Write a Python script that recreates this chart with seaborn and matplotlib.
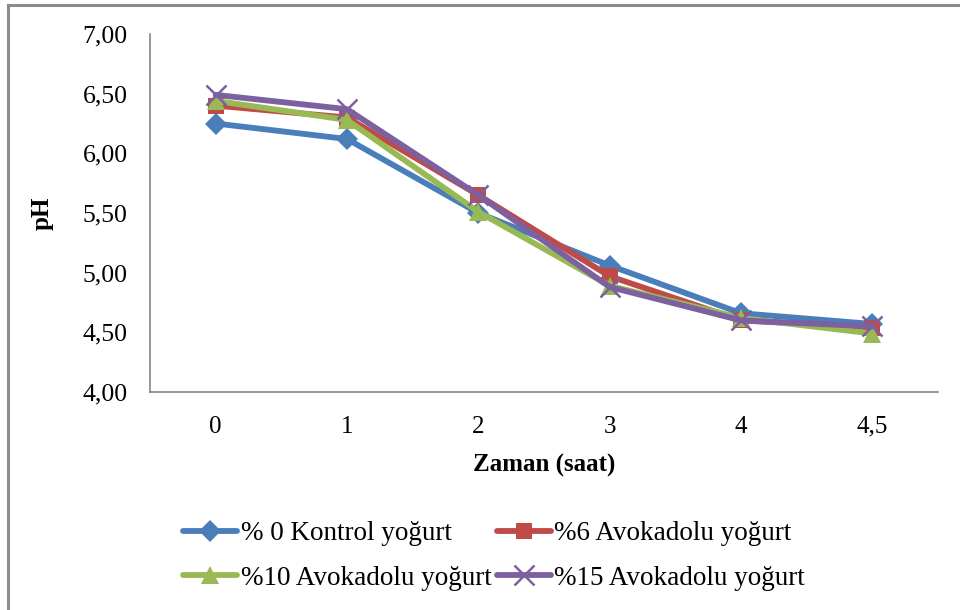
import matplotlib
matplotlib.use("Agg")
import matplotlib.pyplot as plt
import seaborn as sns
import pandas as pd
from matplotlib.ticker import FuncFormatter, FixedLocator
from matplotlib.patches import Rectangle

# Data
times = ["0", "1", "2", "3", "4", "4,5"]
series_names = ["% 0 Kontrol yoğurt", "%6 Avokadolu yoğurt",
                "%10 Avokadolu yoğurt", "%15 Avokadolu yoğurt"]
kontrol = [6.25, 6.12, 5.50, 5.06, 4.66, 4.57]
avo6 = [6.40, 6.30, 5.65, 4.97, 4.60, 4.54]
avo10 = [6.44, 6.28, 5.51, 4.89, 4.62, 4.49]
avo15 = [6.49, 6.37, 5.65, 4.88, 4.60, 4.55]

colors = ["#4A7EBB", "#BE4B48", "#98B954", "#7D60A0"]
markers = ["D", "s", "^", "x"]
msizes = [11, 11.5, 13.5, 14]

rows = []
for name, vals in zip(series_names, [kontrol, avo6, avo10, avo15]):
    for i, (t, v) in enumerate(zip(times, vals)):
        rows.append({"pos": i, "Zaman": t, "pH": v, "Seri": name})
df = pd.DataFrame(rows)

sns.set_style("white")
plt.rcParams["font.family"] = ["Liberation Serif", "DejaVu Serif"]
plt.rcParams["text.color"] = "black"
plt.rcParams["axes.labelcolor"] = "black"
plt.rcParams["xtick.color"] = "black"
plt.rcParams["ytick.color"] = "black"

fig = plt.figure(figsize=(9.6, 6.1), dpi=100)
ax = fig.add_axes([150/960, 1-392/610, (938-150)/960, (392-34)/610])

for name, c, m, ms in zip(series_names, colors, markers, msizes):
    sub = df[df["Seri"] == name]
    kw = dict(markeredgewidth=1.8) if m == "x" else dict(markeredgewidth=0)
    sns.lineplot(data=sub, x="pos", y="pH", color=c, marker=m,
                 markersize=ms, markerfacecolor=c, markeredgecolor=c,
                 linewidth=4.2, ax=ax, label=name, sort=False,
                 solid_capstyle="round", solid_joinstyle="round", **kw)

ax.set_xlim(-0.5, 5.5)
ax.set_ylim(4.0, 7.0)
ax.set_yticks([4.0, 4.5, 5.0, 5.5, 6.0, 6.5, 7.0])
ax.yaxis.set_major_formatter(FuncFormatter(lambda v, p: f"{v:.2f}".replace(".", ",")))

ax.xaxis.set_major_locator(FixedLocator([i - 0.5 for i in range(7)]))
ax.xaxis.set_major_formatter(FuncFormatter(lambda v, p: ""))
ax.set_xticks(list(range(6)), labels=times, minor=True)

ax.tick_params(axis="x", which="major", direction="out", length=6, width=1.2,
               color="#868686")
ax.tick_params(axis="x", which="minor", length=0, labelsize=18, pad=17,
               labelcolor="black")
ax.tick_params(axis="y", direction="out", length=6, width=1.2, color="#868686",
               labelsize=18.5, pad=10, labelcolor="black")

for s in ["top", "right"]:
    ax.spines[s].set_visible(False)
for s in ["left", "bottom"]:
    ax.spines[s].set_color("#868686")
    ax.spines[s].set_linewidth(1.2)

ax.set_xlabel("Zaman (saat)", fontsize=18, fontweight="bold", labelpad=12,
              color="black")
ax.set_ylabel("pH", fontsize=18, fontweight="bold", labelpad=21, color="black")
ax.grid(False)

# legend (row-wise order)
h, l = ax.get_legend_handles_labels()
if ax.get_legend() is not None:
    ax.get_legend().remove()
order = [0, 2, 1, 3]
leg = fig.legend([h[i] for i in order], [l[i] for i in order],
                 loc="center", bbox_to_anchor=(494/960, 1-556/610), ncol=2,
                 frameon=False, fontsize=19.5, handlelength=2.0,
                 handletextpad=0.12, columnspacing=0.2, labelspacing=0.72)

# outer border
fig.patches.append(Rectangle((8/960, -0.02), 1.1, 1-5/610 + 0.02,
                             transform=fig.transFigure, fill=False,
                             edgecolor="#8C8C8C", linewidth=2.2, zorder=-1))

fig.savefig("out.png", dpi=100)
